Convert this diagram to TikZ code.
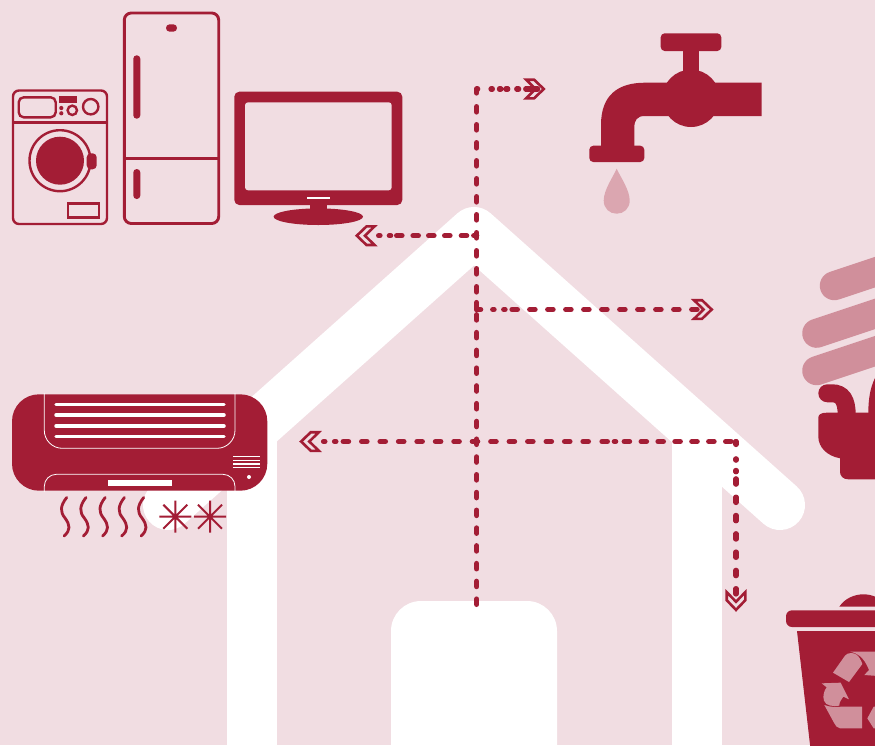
\documentclass[tikz,border=0pt]{standalone}
\usetikzlibrary{calc}
\definecolor{bgpink}{HTML}{F1DDE2}
\definecolor{wine}{HTML}{A31D35}
\definecolor{bulbpink}{HTML}{D08F9B}
\definecolor{droppink}{HTML}{DBA6B0}
\tikzset{
  flow/.style={draw=wine,line width=5.2pt,line cap=round},
  chev/.pic={
    \draw[wine,line width=2.6pt,fill=bgpink,miter limit=10] (-19.5,-9.3) -- (-11.5,-9.3) -- (-1.8,0) -- (-11.5,9.3) -- (-19.5,9.3) -- (-10,0) -- cycle;
  },
  wave/.pic={
    \draw[wine,line width=2.8pt,line cap=round] (66.7,497.5) .. controls (60,506) and (60,512) .. (65,518) .. controls (70,525) and (71,530) .. (64,536);
  },
  star/.pic={
    \draw[wine,line width=2pt] (-16,0) -- (16,0) (0,-16) -- (0,16) (-12,-12) -- (12,12) (-12,12) -- (12,-12);
  }
}
\begin{document}
\begin{tikzpicture}[x=1pt,y=-1pt]
\useasboundingbox (0,0) rectangle (875,745);
\clip (0,0) rectangle (875,745);
\fill[bgpink] (0,0) rectangle (875,745);

% house
\draw[white,line width=50pt] (252,430) -- (252,770);
\draw[white,line width=50pt] (697,430) -- (697,770);
\draw[white,line width=50pt,line cap=round,line join=round] (168,505) -- (474,232) -- (780,505);
\fill[white,rounded corners=30pt] (391,780) -- (391,601) -- (557,601) -- (557,780) -- cycle;

% washing machine
\draw[wine,line width=2.4pt,rounded corners=6pt] (13,90.5) rectangle (107,224);
\draw[wine,line width=3pt] (13,122) -- (107,122);
\draw[wine,line width=2.4pt,rounded corners=5pt] (18.7,97.3) rectangle (55.7,117.3);
\fill[wine] (59.3,96) rectangle (77.3,103.3);
\fill[wine] (61.3,108) circle[radius=2.1pt] (61.3,113.3) circle[radius=2.1pt];
\draw[wine,line width=2.4pt] (72.3,110.3) circle[radius=4.7pt];
\draw[wine,line width=2.4pt] (90.7,106.7) circle[radius=7.7pt];
\draw[wine,line width=2.4pt] (60,160.7) circle[radius=30.5pt];
\fill[wine] (60,160.7) circle[radius=24pt];
\fill[wine,rounded corners=4pt] (86.7,153.3) rectangle (96.7,169.3);
\draw[wine,line width=2.4pt] (67.7,203.3) rectangle (99,217.3);

% fridge
\draw[wine,line width=2.9pt,rounded corners=7pt] (124.3,13) rectangle (218.7,223.5);
\draw[wine,line width=3pt] (124,158) -- (219,158);
\fill[wine,rounded corners=3.4pt] (133.3,55.3) rectangle (140.3,118.7);
\fill[wine,rounded corners=3.4pt] (133.3,169) rectangle (140.3,199);
\fill[wine,rounded corners=3.6pt] (166,24.3) rectangle (177,31.7);

% television
\fill[wine] (310,205) rectangle (327,212);
\fill[wine] (318.3,216.7) ellipse[x radius=44.7pt,y radius=8.3pt];
\fill[wine,rounded corners=5pt] (234.3,91.7) rectangle (402.3,205);
\fill[bgpink,rounded corners=3pt] (245,102.3) rectangle (391.7,190.3);
\fill[white] (307,196.7) rectangle (330,198.7);

% tap
\fill[wine,rounded corners=4pt] (660.7,33.3) rectangle (721.3,51);
\fill[wine] (683,50) rectangle (698.7,75);
\fill[wine] (691,98.3) circle[radius=28.7pt];
\fill[wine] (695,82.7) -- (761.7,82.7) -- (761.7,116) -- (695,116) -- (645,116)
  .. controls (637,116) and (634.3,120) .. (634.3,128) -- (634.3,150) -- (601,150) -- (601,125)
  .. controls (601,95) and (618,82.7) .. (645,82.7) -- cycle;
\fill[wine,rounded corners=4pt] (589.3,145.7) rectangle (644.3,162);
\fill[droppink] (616.7,168.7) .. controls (613,177) and (603.7,190) .. (603.7,200.5)
  .. controls (603.7,208.5) and (609.5,213.7) .. (616.7,213.7)
  .. controls (623.9,213.7) and (629.7,208.5) .. (629.7,200.5)
  .. controls (629.7,190) and (620.4,177) .. (616.7,168.7) -- cycle;

% air conditioner
\fill[wine,rounded corners=27pt] (12,394.3) rectangle (267.3,490.7);
\draw[white,line width=0.8pt,rounded corners=18pt] (44.3,393) -- (44.3,448.3) -- (235,448.3) -- (235,393);
\draw[white,line width=0.8pt,rounded corners=12pt] (44.3,492) -- (44.3,474.3) -- (235,474.3) -- (235,492);
\foreach \vy in {404.3,415,426,436.7}
  \draw[white,line width=3.5pt,line cap=round] (56,\vy) -- (224,\vy);
\fill[white] (108,480) rectangle (172,486);
\foreach \vy in {456.7,460.3,464,467.3}
  \draw[white,line width=1.3pt] (233,\vy) -- (260,\vy);
\fill[white] (249,477) circle[radius=2pt];
\foreach \wx in {0,19.3,38.5,57.7,77}
  \pic at (\wx,0) {wave};
\pic at (175.3,516.7) {star};
\pic at (210,516.7) {star};

% light bulb
\draw[bulbpink,line width=29pt,line cap=round] (834.3,285.7) -- ($(834.3,285.7)+(90,-30)$);
\draw[bulbpink,line width=29pt,line cap=round] (816.7,333.3) -- ($(816.7,333.3)+(90,-30)$);
\draw[bulbpink,line width=29pt,line cap=round] (816.7,370.7) -- ($(816.7,370.7)+(90,-30)$);
\draw[wine,line width=18pt,line cap=round] (827.3,393.3) -- (832,393.3) .. controls (842,393.3) and (846.7,400) .. (846.7,415);
\fill[wine] (868.3,413) .. controls (868.3,400) and (870,388) .. (875,378) -- (885,378) -- (885,413) -- cycle;
\fill[wine] (827,412.7) -- (885,412.7) -- (885,479.3) -- (848.3,479.3) .. controls (843,479.3) and (840,476) .. (840,471.7)
  -- (840,458.3) .. controls (827,456) and (818.3,447) .. (818.3,436.7) -- (818.3,418) .. controls (818.3,415) and (820,412.7) .. (827,412.7) -- cycle;

% recycling bin
\fill[wine] (839.3,606.7) .. controls (845,598) and (855,594.3) .. (863.3,594.3) .. controls (872,594.3) and (882,598) .. (887.3,606.7) -- cycle;
\fill[wine,rounded corners=6pt] (786,610.3) rectangle (890,627);
\fill[wine] (797,631) -- (885,631) -- (885,750) -- (810.6,750) -- cycle;
\begin{scope}[shift={(775,580)},x=0.33333pt,y=-0.33333pt]
  \fill[bulbpink] (174,278) -- (210,227) .. controls (218,217) and (235,217) .. (245,224) .. controls (252,230) and (258,240) .. (262,252) -- (222,306) -- cycle;
  \fill[bulbpink] (226,215) -- (310,215) -- (310,288) -- (268,285) -- (282,270) .. controls (272,245) and (258,222) .. (226,215) -- cycle;
  \fill[bulbpink] (140,310) -- (197,308) -- (222,358) -- (205,350) .. controls (200,358) and (192,366) .. (193,377) .. controls (175,380) and (152,378) .. (147,362) .. controls (142,348) and (148,330) .. (155,322) -- cycle;
  \fill[bulbpink] (148,375) .. controls (165,382) and (185,381) .. (200,380) -- (261,380) -- (261,445) -- (195,445) .. controls (186,445) and (182,436) .. (178,430) -- cycle;
  \fill[bulbpink] (310,380) -- (296,380) -- (277,415) -- (296,445) -- (310,445) -- cycle;
\end{scope}

% flow connectors
\coordinate (base) at (476.7,604.4);
\coordinate (jRight) at (476.7,309.5);
\coordinate (jLeft) at (476.7,235.7);
\coordinate (corner) at (476.7,89);
\coordinate (tipTop) at (545.6,89);
\coordinate (tipLeft) at (355,235.7);
\coordinate (tipRight) at (713.5,309.5);
\coordinate (corner2) at (736,441.5);
\coordinate (tipLong) at (299.3,441.5);
\coordinate (tipDown) at (736,611.7);

\pic at (tipTop) {chev};
\pic[rotate=180] at (tipLeft) {chev};
\pic at (tipRight) {chev};
\pic[rotate=180] at (tipLong) {chev};
\pic[rotate=-90] at (tipDown) {chev};

\draw[flow,dash pattern=on 5.4pt off 12.37pt] (base) -- (jRight);
\draw[flow,dash pattern=on 7pt off 10.5pt on 5.4pt off 12.6pt on 5.4pt off 12.6pt on 5.4pt off 12.6pt on 5.4pt off 12.6pt on 5.4pt off 12.6pt on 5.4pt off 12.6pt on 5.4pt off 12.6pt on 5.4pt off 12.6pt on 5.4pt off 12.6pt on 5.4pt off 12.6pt on 5.4pt off 13.6pt on 4pt off 50pt] (jRight) -- (corner);
\draw[flow,dash pattern=on 1pt off 13.3pt on 1.4pt off 7pt on 1.4pt off 5pt on 2pt off 8.9pt on 2pt off 7pt on 5pt off 3pt on 4pt off 50pt] (corner) -- (tipTop);
\draw[flow,dash pattern=on 3pt off 7pt on 5.4pt off 11.3pt on 5.4pt off 10.6pt on 5.4pt off 10.2pt on 5.4pt off 11pt on 5.4pt off 5.9pt on 1.4pt off 9.3pt on 1.4pt off 50pt] (jLeft) -- (tipLeft);
\draw[flow,dash pattern=on 4pt off 12pt on 1.4pt off 9.6pt on 1.4pt off 6.9pt on 5.4pt off 12.3pt on 5.4pt off 12.6pt on 5.4pt off 12.6pt on 5.4pt off 12.6pt on 5.4pt off 12.6pt on 5.4pt off 12.6pt on 5.4pt off 12.6pt on 5.4pt off 12.6pt on 5.4pt off 12.6pt on 5.4pt off 12.6pt on 5.4pt off 50pt] (jRight) -- (tipRight);
\draw[flow,dash pattern=on 0.1pt off 4.9pt on 5.4pt off 11.5pt on 5.4pt off 11.5pt on 5.4pt off 11.5pt on 5.4pt off 11.5pt on 5.4pt off 11.5pt on 5.4pt off 11.5pt on 5.4pt off 8.5pt on 1.4pt off 6.9pt on 5.4pt off 13.6pt on 5.4pt off 13.05pt on 5.4pt off 13.05pt on 5.4pt off 13.05pt on 5.4pt off 13.05pt on 5.4pt off 13.05pt on 5.4pt off 13.05pt on 5.4pt off 13.05pt on 5.4pt off 13.05pt on 5.4pt off 13.05pt on 5.4pt off 13.05pt on 5.4pt off 13.05pt on 5.4pt off 13.05pt on 5.4pt off 13pt on 5.4pt off 7.3pt on 1.4pt off 9.6pt on 1.4pt off 50pt] (corner2) -- (tipLong);
\draw[flow,dash pattern=on 3pt off 14.3pt on 1.4pt off 10.2pt on 1.4pt off 7pt on 5.4pt off 12.9pt on 5.4pt off 12.9pt on 5.4pt off 12.9pt on 5.4pt off 12.9pt on 5.4pt off 12.9pt on 5.4pt off 12.9pt on 5.4pt off 50pt] (corner2) -- (tipDown);
\end{tikzpicture}
\end{document}
